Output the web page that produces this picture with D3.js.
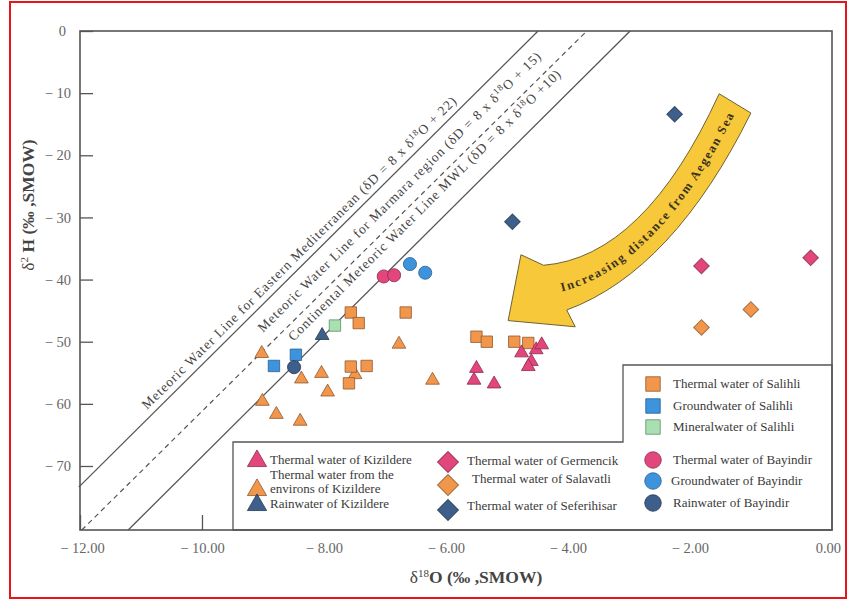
<!DOCTYPE html>
<html><head><meta charset="utf-8">
<script src="https://cdn.jsdelivr.net/npm/d3@7"></script>
<style>body{margin:0;background:#fff}svg{display:block}</style>
</head><body>
<svg id="c" width="848" height="601"></svg>
<script>
// ---------- data ----------
const xTicks = [-12, -10, -8, -6, -4, -2, 0];
const xTickLabels = ["− 12.00", "− 10.00", "− 8.00", "− 6.00", "− 4.00", "− 2.00", "0.00"];
const yTicks = [0, -10, -20, -30, -40, -50, -60, -70];
const yTickLabels = ["0", "− 10", "− 20", "− 30", "− 40", "− 50", "− 60", "− 70"];

const thermalKizildere = [[-5.50,-54.3],[-5.54,-56.2],[-5.21,-56.8],[-4.76,-51.8],[-4.52,-51.3],[-4.43,-50.5],[-4.60,-53.2],[-4.65,-54.0]];
const environsKizildere = [[-9.02,-51.9],[-8.37,-56.0],[-8.04,-55.1],[-7.94,-58.1],[-7.49,-55.3],[-6.77,-50.4],[-6.22,-56.2],[-9.01,-59.6],[-8.78,-61.7],[-8.39,-62.8]];
const rainKizildere = [[-8.03,-49.0]];
const thermalSalihli = [[-7.56,-45.3],[-7.43,-47.0],[-6.66,-45.3],[-7.30,-53.9],[-7.56,-54.0],[-7.59,-56.7],[-5.50,-49.2],[-5.33,-50.0],[-4.88,-50.0],[-4.65,-50.2]];
const groundSalihli = [[-8.46,-52.1],[-8.82,-53.9]];
const mineralSalihli = [[-7.82,-47.4]];
const thermalBayindir = [[-7.02,-39.5],[-6.85,-39.3]];
const groundBayindir = [[-6.59,-37.5],[-6.34,-38.9]];
const rainBayindir = [[-8.49,-54.1]];
const germencik = [[-1.81,-37.8],[-0.02,-36.5]];
const salavatli = [[-1.81,-47.7],[-1.00,-44.8]];
const seferihisar = [[-2.25,-13.4],[-4.91,-30.7]];

// meteoric water lines as drawn (end points)
const lineMed = [[-12.02,-73.4],[-4.49,0]];
const lineMarmara = [[-11.97,-80.3],[-3.69,0]];
const lineContinental = [[-11.21,-80.3],[-2.98,0]];

// ---------- setup ----------
const svg = d3.select("#c");
const W = 848, H = 601;
const L = 80, R = 832, T = 31, B = 530;
const x = d3.scaleLinear().domain([-12, 0.33]).range([L, R]);
const y = d3.scaleLinear().domain([-80.3, 0]).range([B, T]);
const serif = "'Liberation Serif','Times New Roman',serif";

svg.append("rect").attr("width", W).attr("height", H).attr("fill", "#fff");
svg.append("rect").attr("x", 10).attr("y", 2).attr("width", 836).attr("height", 596)
  .attr("fill", "none").attr("stroke", "#e8141c").attr("stroke-width", 2);

const C = {
  orange: "#f2964c", orangeS: "#8e5a33",
  pink: "#e2467c", pinkS: "#8c2c4f",
  blue: "#3d93dc", blueS: "#2a5f8e",
  dark: "#3e5f8b", darkS: "#26394f",
  green: "#a9e0b2", greenS: "#5f8f66",
  line: "#555"
};

// meteoric water lines
const lineGen = d3.line().x(d => x(d[0])).y(d => y(d[1]));
svg.append("path").datum(lineMed).attr("d", lineGen).attr("fill", "none").attr("stroke", C.line).attr("stroke-width", 1.3);
svg.append("path").datum(lineMarmara).attr("d", lineGen).attr("fill", "none").attr("stroke", C.line).attr("stroke-width", 1.2).attr("stroke-dasharray", "5,4");
svg.append("path").datum(lineContinental).attr("d", lineGen).attr("fill", "none").attr("stroke", C.line).attr("stroke-width", 1.3);

// line labels
function angleOf(ln) {
  return Math.atan2(y(ln[1][1]) - y(ln[0][1]), x(ln[1][0]) - x(ln[0][0])) * 180 / Math.PI;
}
function lineLabel(anchor, ln, parts, len) {
  const t = svg.append("text")
    .attr("transform", `translate(${x(anchor[0])},${y(anchor[1])}) rotate(${angleOf(ln)})`)
    .attr("font-family", serif).attr("font-size", 13.5).attr("fill", "#444")
    .attr("textLength", len).attr("lengthAdjust", "spacing");
  parts.forEach(p => {
    const ts = t.append("tspan").text(p.t);
    if (p.sup) ts.attr("font-size", 9).attr("baseline-shift", "super");
  });
}
lineLabel([-10.90, -61.0], lineMed, [{t: "Meteoric Water Line for Eastern Mediterranean (δD = 8 x δ"}, {t: "18", sup: true}, {t: "O + 22)"}], 437);
lineLabel([-9.0, -48.6], lineMarmara, [{t: "Meteoric Water Line for Marmara region (δD = 8 x δ"}, {t: "18", sup: true}, {t: "O + 15)"}], 392);
lineLabel([-8.50, -50.0], lineContinental, [{t: "Continental Meteoric Water Line MWL (δD = 8 x δ"}, {t: "18", sup: true}, {t: "O +10)"}], 378);

// arrow (annotation, in data units)
const arrowTip = [-4.98, -46.6], wing1 = [-4.77, -36.0], upStart = [-4.40, -37.7], upCtrl = [-2.75, -36.4],
      tail1 = [-1.52, -10.1], tail2 = [-1.00, -13.2], loCtrl = [-2.28, -38.6], loEnd = [-4.02, -44.9], wing2 = [-3.88, -47.6];
const P = d => `${x(d[0])},${y(d[1])}`;
svg.append("path")
  .attr("d", `M${P(arrowTip)} L${P(wing1)} L${P(upStart)} Q${P(upCtrl)} ${P(tail1)} L${P(tail2)} Q${P(loCtrl)} ${P(loEnd)} L${P(wing2)} Z`)
  .attr("fill", "#f7c83a").attr("stroke", "#6e6232").attr("stroke-width", 1);
const tStart = [-4.15, -41.3], tCtrl = [-2.55, -37.6], tEnd = [-1.26, -11.7];
svg.append("path").attr("id", "arrowText").attr("fill", "none")
  .attr("d", `M${P(tStart)} Q${P(tCtrl)} ${P(tEnd)}`);
svg.append("text").attr("font-family", serif).attr("font-size", 12.5).attr("font-weight", "bold").attr("fill", "#3a3320")
  .attr("dy", "0.35em")
  .append("textPath").attr("href", "#arrowText").attr("startOffset", 2)
  .attr("textLength", 250).attr("lengthAdjust", "spacing")
  .text("Increasing distance from Aegean Sea");

// ---------- points ----------
const tri = d3.symbol().type(d3.symbolTriangle);
const sq = d3.symbol().type(d3.symbolSquare);
const circ = d3.symbol().type(d3.symbolCircle);
function drawMarker(g, shape, size, fill, stroke) {
  let p;
  if (shape === "tri") p = g.append("path").attr("d", tri.size(size)());
  else if (shape === "sq") p = g.append("path").attr("d", sq.size(size)());
  else if (shape === "circ") p = g.append("path").attr("d", circ.size(size)());
  else p = g.append("path").attr("d", sq.size(size)()).attr("transform", "rotate(45)");
  p.attr("fill", fill).attr("stroke", stroke).attr("stroke-width", 1).attr("stroke-opacity", 0.8);
  return p;
}
const series = [
  {data: germencik, shape: "dia", fill: C.pink, stroke: C.pinkS},
  {data: salavatli, shape: "dia", fill: C.orange, stroke: C.orangeS},
  {data: seferihisar, shape: "dia", fill: C.dark, stroke: C.darkS},
  {data: thermalBayindir, shape: "circ", fill: C.pink, stroke: C.pinkS},
  {data: groundBayindir, shape: "circ", fill: C.blue, stroke: C.blueS},
  {data: environsKizildere, shape: "tri", fill: C.orange, stroke: C.orangeS},
  {data: thermalSalihli, shape: "sq", fill: C.orange, stroke: C.orangeS},
  {data: groundSalihli, shape: "sq", fill: C.blue, stroke: C.blueS},
  {data: mineralSalihli, shape: "sq", fill: C.green, stroke: C.greenS},
  {data: rainKizildere, shape: "tri", fill: C.dark, stroke: C.darkS},
  {data: rainBayindir, shape: "circ", fill: C.dark, stroke: C.darkS},
  {data: thermalKizildere, shape: "tri", fill: C.pink, stroke: C.pinkS}
];
const sizes = {tri: 82, sq: 130, circ: 135, dia: 122};
series.forEach(s => {
  s.data.forEach(d => {
    const g = svg.append("g").attr("transform", `translate(${x(d[0])},${y(d[1])})`);
    drawMarker(g, s.shape, sizes[s.shape], s.fill, s.stroke);
  });
});

// ---------- axes ----------
const gx = svg.append("g").attr("transform", `translate(0,${B})`)
  .call(d3.axisBottom(x).tickValues(xTicks).tickSizeInner(-15).tickSizeOuter(0).tickPadding(13)
    .tickFormat((d, i) => xTickLabels[i]));
gx.select(".domain").remove();
gx.selectAll(".tick line").attr("stroke", C.line).attr("stroke-width", 1.3);
gx.selectAll(".tick text").attr("font-family", serif).attr("font-size", 14.5).attr("fill", "#666")
  .attr("dx", (d) => d === 0 ? 16 : (d === -12 ? 2 : 0));

const gy = svg.append("g").attr("transform", `translate(${L},0)`)
  .call(d3.axisLeft(y).tickValues(yTicks).tickSizeInner(-13).tickSizeOuter(0).tickPadding(9)
    .tickFormat((d, i) => yTickLabels[i]));
gy.select(".domain").remove();
gy.selectAll(".tick line").attr("stroke", C.line).attr("stroke-width", 1.3);
gy.selectAll(".tick text").attr("font-family", serif).attr("font-size", 14.5).attr("fill", "#666")
  .attr("dx", (d) => d === 0 ? -5 : 0);

// ---------- legend boxes ----------
const legL = 233, legTop1 = 442, legX2 = 623, legTop2 = 365;
svg.append("path")
  .attr("d", `M${legL},${B} L${legL},${legTop1} L${legX2},${legTop1} L${legX2},${legTop2} L${R},${legTop2} L${R},${B} Z`)
  .attr("fill", "#fff").attr("stroke", "#555").attr("stroke-width", 1.3);

// frame
svg.append("rect").attr("x", L).attr("y", T).attr("width", R - L).attr("height", B - T)
  .attr("fill", "none").attr("stroke", "#555").attr("stroke-width", 1.6);

const legendItems = [
  {shape: "tri", fill: C.pink, stroke: C.pinkS, mx: 257, my: 461, tx: 270, lines: ["Thermal water of Kizildere"], ty: [464]},
  {shape: "tri", fill: C.orange, stroke: C.orangeS, mx: 257, my: 490, tx: 270, lines: ["Thermal water from the", "environs of Kizildere"], ty: [479, 493]},
  {shape: "tri", fill: C.dark, stroke: C.darkS, mx: 257, my: 505, tx: 270, lines: ["Rainwater of Kizildere"], ty: [508]},
  {shape: "dia", fill: C.pink, stroke: C.pinkS, mx: 448, my: 462, tx: 467, lines: ["Thermal water of Germencik"], ty: [465]},
  {shape: "dia", fill: C.orange, stroke: C.orangeS, mx: 448, my: 485, tx: 472, lines: ["Thermal water of Salavatli"], ty: [483]},
  {shape: "dia", fill: C.dark, stroke: C.darkS, mx: 448, my: 510, tx: 467, lines: ["Thermal water of Seferihisar"], ty: [510]},
  {shape: "sq", fill: C.orange, stroke: C.orangeS, mx: 653, my: 384, tx: 673, lines: ["Thermal water of Salihli"], ty: [388]},
  {shape: "sq", fill: C.blue, stroke: C.blueS, mx: 653, my: 406, tx: 673, lines: ["Groundwater of Salihli"], ty: [410]},
  {shape: "sq", fill: C.green, stroke: C.greenS, mx: 653, my: 427, tx: 673, lines: ["Mineralwater of Salihli"], ty: [431]},
  {shape: "circ", fill: C.pink, stroke: C.pinkS, mx: 653, my: 460, tx: 673, lines: ["Thermal water of Bayindir"], ty: [464]},
  {shape: "circ", fill: C.blue, stroke: C.blueS, mx: 653, my: 481, tx: 671, lines: ["Groundwater of Bayindir"], ty: [485]},
  {shape: "circ", fill: C.dark, stroke: C.darkS, mx: 653, my: 503, tx: 673, lines: ["Rainwater of Bayindir"], ty: [507]}
];
const legSizes = {tri: 160, sq: 210, circ: 215, dia: 220};
legendItems.forEach(it => {
  const g = svg.append("g").attr("transform", `translate(${it.mx},${it.my})`);
  drawMarker(g, it.shape, legSizes[it.shape], it.fill, it.stroke);
  it.lines.forEach((ln, i) => {
    svg.append("text").attr("x", it.tx).attr("y", it.ty[i]).text(ln)
      .attr("font-family", serif).attr("font-size", 13).attr("fill", "#3a3a3a");
  });
});

// ---------- axis titles ----------
const xt = svg.append("text").attr("x", 476).attr("y", 583).attr("text-anchor", "middle")
  .attr("font-family", serif).attr("font-size", 17.5).attr("font-weight", "bold").attr("fill", "#444");
xt.append("tspan").text("δ").attr("font-weight", "normal");
xt.append("tspan").text("18").attr("font-size", 11).attr("baseline-shift", "super").attr("font-weight", "normal");
xt.append("tspan").text("O (‰ ,SMOW)");

const yt = svg.append("text").attr("transform", "translate(34,205) rotate(-90)").attr("text-anchor", "middle")
  .attr("font-family", serif).attr("font-size", 17.5).attr("font-weight", "bold").attr("fill", "#444");
yt.append("tspan").text("δ").attr("font-weight", "normal");
yt.append("tspan").text("2").attr("font-size", 11).attr("baseline-shift", "super").attr("font-weight", "normal");
yt.append("tspan").text(" H (‰ ,SMOW)");
</script>
</body></html>
